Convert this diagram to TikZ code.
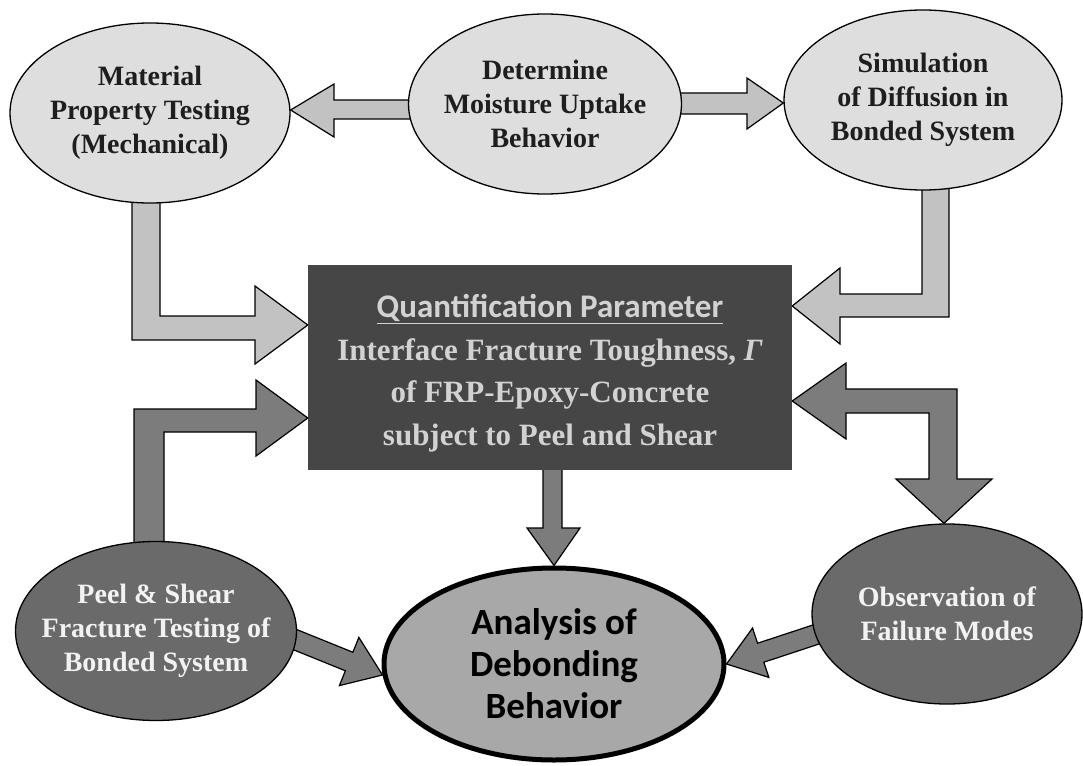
\documentclass[tikz,border=0pt]{standalone}
\usepackage{fontspec}
\setmainfont{Liberation Serif}
\newfontfamily\calib{Carlito}
\usetikzlibrary{shapes.geometric,calc}
\pgfdeclarelayer{bg}
\pgfsetlayers{bg,main}
\definecolor{lightfill}{HTML}{DEDEDE}
\definecolor{lightarrow}{HTML}{C2C2C2}
\definecolor{darkarrow}{HTML}{7C7C7C}
\definecolor{darkfill}{HTML}{6A6A6A}
\definecolor{anafill}{HTML}{A8A8A8}
\definecolor{boxfill}{HTML}{464646}
\definecolor{textdark}{HTML}{1E1E1E}
\definecolor{boxtext}{HTML}{D2D2D2}
\definecolor{textwhite}{HTML}{F2F2F2}
\newcommand\diagarr[6]{%
  \coordinate (hb) at ($(#3)!#6!(#2)$);
  \draw[#1] ($(#2)!#4!90:(#3)$) -- ($(hb)!#4!90:(#3)$) -- ($(hb)!#5!90:(#3)$) -- (#3)
    -- ($(hb)!#5!-90:(#3)$) -- ($(hb)!#4!-90:(#3)$) -- ($(#2)!#4!-90:(#3)$) -- cycle;}
\begin{document}
\begin{tikzpicture}[x=1pt,y=-1pt,
  el/.style={ellipse, draw=black, line width=1.3pt, inner sep=0pt, inner xsep=-22pt, align=center,
    font=\bfseries\fontsize{28}{34}\selectfont},
  lightel/.style={el, fill=lightfill, text=textdark},
  darkel/.style={el, fill=darkfill, text=textwhite},
  lightarr/.style={draw=black, line width=1.2pt, fill=lightarrow, line join=miter},
  darkarr/.style={draw=black, line width=1.2pt, fill=darkarrow, line join=miter},
  qbox/.style={rectangle, fill=boxfill, inner sep=0pt, minimum width=484pt, minimum height=205pt},
  qtext/.style={inner sep=0pt, align=center, text=boxtext, font=\bfseries\fontsize{31}{42.5}\selectfont},
  anael/.style={ellipse, draw=black, line width=5pt, fill=anafill, inner sep=0pt, align=center,
    text=black, font=\calib\bfseries\fontsize{37}{42}\selectfont}
]
\useasboundingbox (0,0) rectangle (1083,765);

\node[lightel, minimum width=280pt, minimum height=180pt] (mat) at (150,113)
  {Material\\Property Testing\\(Mechanical)};
\node[lightel, minimum width=273pt, minimum height=180pt] (det) at (545,104)
  {Determine\\Moisture Uptake\\Behavior};
\node[lightel, minimum width=278pt, minimum height=180pt] (sim) at (923,100)
  {Simulation\\of Diffusion in\\Bonded System};
\node[qbox] (box) at (550,367) {};
\node[qtext] (boxtxt) at ($(box.center)+(0,6)$)
  {{\calib\fontsize{33}{42.5}\selectfont\underline{Quantification Parameter}}\\Interface Fracture Toughness, \textit{Γ}\\of FRP-Epoxy-Concrete\\subject to Peel and Shear};
\node[darkel, minimum width=281pt, minimum height=179pt] (peel) at (156,631)
  {Peel \& Shear\\Fracture Testing of\\Bonded System};
\node[anael, minimum width=340pt, minimum height=192pt] (ana) at (554,664)
  {Analysis of\\Debonding\\Behavior};
\node[darkel, minimum width=270pt, minimum height=180pt] (obs) at (947,614)
  {Observation of\\Failure Modes};

\coordinate (s8) at (244,619);
\coordinate (t8) at ($(ana.west)+(1,11)$);
\coordinate (s9) at (869,617);
\coordinate (t9) at (ana.east);

\begin{pgfonlayer}{bg}
\fill[white] (0,0) rectangle (1083,765);
% Determine -> Material
\draw[lightarr] (det.center |- 0,100) -- (334,100) -- (334,84) -- (mat.east |- 0,110)
  -- (334,137) -- (334,119) -- (det.center |- 0,119) -- cycle;
% Determine -> Simulation
\draw[lightarr] (det.center |- 0,93) -- (747,93) -- (747,78) -- (sim.west |- 0,103)
  -- (747,129) -- (747,114) -- (det.center |- 0,114) -- cycle;
% Material -> box
\draw[lightarr] (mat.center -| 132,0) -- (132,340) -- (255,340) -- (255,364)
  -- (box.west |- 0,325) -- (255,286) -- (255,316) -- (160,316) -- (mat.center -| 160,0) -- cycle;
% Simulation -> box
\draw[lightarr] (sim.center -| 949,0) -- (949,317) -- (840,317) -- (840,344)
  -- (box.east |- 0,306) -- (840,268) -- (840,294) -- (922,294) -- (sim.center -| 922,0) -- cycle;
% Peel -> box
\draw[darkarr] (peel.center -| 134,0) -- (134,409) -- (256,409) -- (256,380)
  -- (box.west |- 0,418) -- (256,456) -- (256,432) -- (164,432) -- (peel.center -| 164,0) -- cycle;
% box <-> Observation
\draw[darkarr] (box.east |- 0,401) -- (846,363) -- (846,389) -- (957,389) -- (957,479)
  -- (992,479) -- (obs.north -| 944,0) -- (896,479) -- (929,479) -- (929,413)
  -- (846,413) -- (846,439) -- cycle;
% box -> Analysis
\draw[darkarr] (box.center -| 543,0) -- (543,528) -- (527,528) -- (ana.north)
  -- (580,528) -- (562,528) -- (box.center -| 562,0) -- cycle;
% Peel -> Analysis
\diagarr{darkarr}{s8}{t8}{10pt}{26pt}{36pt}
% Observation -> Analysis
\diagarr{darkarr}{s9}{t9}{10pt}{26pt}{36pt}
\end{pgfonlayer}
\end{tikzpicture}
\end{document}
